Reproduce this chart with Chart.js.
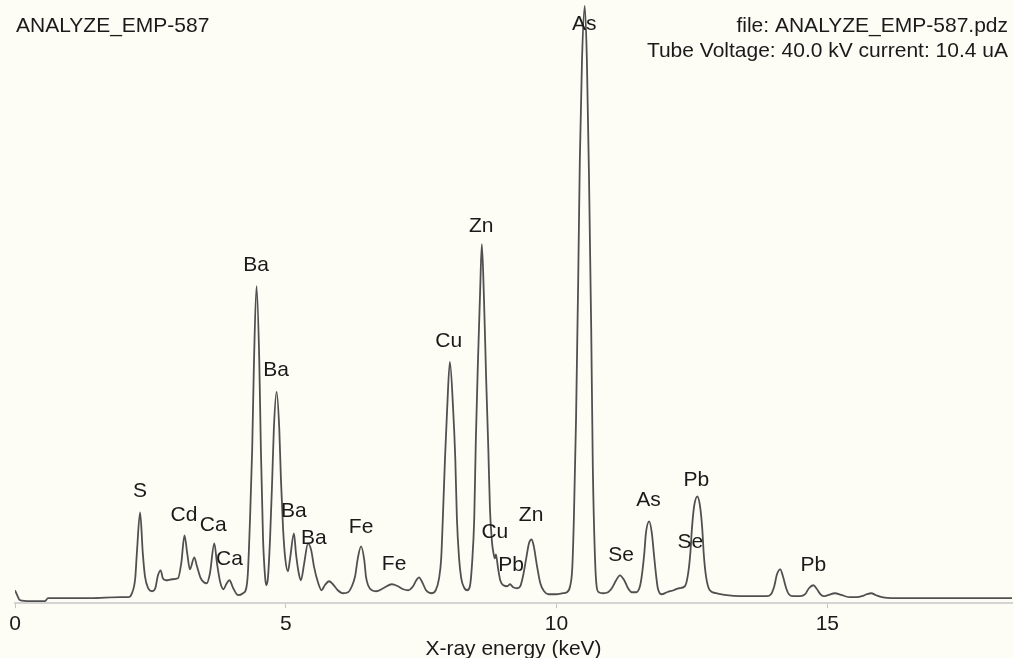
<!DOCTYPE html>
<html><head><meta charset="utf-8">
<script src="https://cdn.jsdelivr.net/npm/chart.js@4/dist/chart.umd.min.js"></script>
<style>html,body{margin:0;padding:0;background:#fdfdf6;overflow:hidden}#wrap{width:1014px;height:658px}</style>
</head><body><div id="wrap"><canvas id="c" width="1014" height="658"></canvas></div>
<script>
const energyKeV=[0.00,0.04,0.09,0.28,0.55,0.61,0.83,1.39,1.94,2.09,2.16,2.22,2.25,2.31,2.36,2.40,2.46,2.53,2.59,2.64,2.69,2.73,2.79,2.90,3.01,3.07,3.13,3.18,3.23,3.31,3.36,3.43,3.54,3.60,3.68,3.73,3.79,3.85,3.90,3.96,4.03,4.12,4.21,4.27,4.30,4.34,4.38,4.41,4.46,4.51,4.54,4.58,4.62,4.64,4.67,4.71,4.75,4.78,4.83,4.88,4.91,4.95,4.99,5.04,5.08,5.15,5.19,5.24,5.28,5.34,5.41,5.47,5.52,5.60,5.66,5.72,5.80,5.87,5.96,6.06,6.15,6.22,6.28,6.33,6.39,6.45,6.48,6.52,6.59,6.67,6.80,6.96,7.07,7.17,7.26,7.35,7.41,7.46,7.52,7.59,7.70,7.77,7.83,7.87,7.90,7.94,7.98,8.03,8.09,8.13,8.16,8.20,8.24,8.29,8.35,8.40,8.44,8.48,8.51,8.55,8.59,8.62,8.66,8.70,8.74,8.77,8.81,8.83,8.86,8.88,8.92,8.96,9.02,9.09,9.14,9.20,9.27,9.33,9.38,9.44,9.49,9.54,9.58,9.64,9.70,9.77,9.85,9.99,10.12,10.19,10.25,10.29,10.32,10.36,10.40,10.43,10.47,10.52,10.56,10.60,10.64,10.67,10.71,10.74,10.78,10.86,10.95,11.02,11.10,11.17,11.25,11.32,11.39,11.47,11.54,11.58,11.62,11.65,11.71,11.76,11.80,11.84,11.87,11.94,12.04,12.16,12.26,12.37,12.43,12.47,12.50,12.54,12.60,12.65,12.69,12.72,12.76,12.83,12.95,13.14,13.39,13.67,13.88,13.96,14.02,14.07,14.13,14.18,14.24,14.29,14.37,14.50,14.59,14.66,14.74,14.81,14.87,14.93,15.01,15.14,15.27,15.42,15.54,15.64,15.73,15.81,15.90,16.01,16.25,16.71,17.27,17.82,18.41];
const intensity=[13,8,3,2,2,5,5,5,6,6,10,25,50,91,50,27,15,12,15,28,33,25,23,24,25,40,68,50,34,46,37,25,20,30,60,40,21,14,19,23,15,8,10,15,30,85,155,235,318,245,155,65,25,18,25,65,125,175,212,175,125,75,45,32,45,70,49,30,23,40,60,53,37,20,13,18,22,19,13,10,11,17,27,45,57,43,27,18,13,12,15,19,17,14,13,17,23,26,21,13,10,13,25,45,85,145,195,242,195,145,85,45,25,16,13,17,40,85,165,245,315,360,305,225,155,95,60,52,45,49,35,23,18,17,19,16,15,17,27,45,60,64,57,37,20,12,9,9,10,11,17,35,85,185,325,445,545,599,545,425,275,135,45,17,11,10,11,15,23,28,23,15,11,11,17,30,50,70,82,70,48,27,15,9,11,13,15,17,30,50,75,97,107,97,75,48,27,13,10,8,7,7,7,9,17,29,34,27,15,9,7,7,9,15,18,14,9,7,8,10,8,6,6,7,9,10,8,6,5,5,5,5,5];
const tickValues=[0,5,10,15];
const peakElements=["S","Cd","Ca","Ca","Ba","Ba","Ba","Ba","Fe","Fe","Cu","Zn","Cu","Pb","Zn","As","Se","As","Pb","Se","Pb"];
const peakEnergy=[2.31,3.12,3.66,3.96,4.45,4.82,5.15,5.52,6.39,7.00,8.01,8.61,8.86,9.16,9.53,10.51,11.19,11.70,12.58,12.47,14.74];
const peakLabelLevel=[107,82,72,38,333,228,86,59,70,33,257,372,65,32,82,575,42,97,118,55,32];
const chartTitle="ANALYZE_EMP-587";
const infoLines=["file: ANALYZE_EMP-587.pdz","Tube Voltage: 40.0 kV current: 10.4 uA"];
const xTitle="X-ray energy (keV)";

const FONT="'Liberation Sans', Arial, Helvetica, sans-serif";
const TEXT="#1a1a1a";

const bgPlugin={id:'bg',beforeDraw(chart){const c=chart.ctx;c.save();c.fillStyle='#fdfdf6';c.fillRect(0,0,chart.width,chart.height);c.restore();}};
const labelPlugin={id:'labels',afterDatasetsDraw(chart){
  const c=chart.ctx, xs=chart.scales.x, ys=chart.scales.y;
  c.save();
  c.fillStyle=TEXT;
  c.font="21px "+FONT;
  c.textAlign='center';c.textBaseline='alphabetic';
  peakElements.forEach((el,i)=>{c.fillText(el,xs.getPixelForValue(peakEnergy[i]),ys.getPixelForValue(peakLabelLevel[i]));});
  c.textAlign='left';
  c.fillText(chartTitle,16,32);
  c.textAlign='right';
  c.fillText(infoLines[0],1008,32);
  c.fillText(infoLines[1],1008,57);
  c.restore();
}};

new Chart(document.getElementById('c'),{
  type:'line',
  data:{datasets:[{data:energyKeV.map((e,i)=>({x:e,y:intensity[i]})),borderColor:'#505050',borderWidth:1.8,pointRadius:0,fill:false,cubicInterpolationMode:'monotone'}]},
  options:{
    responsive:false,animation:false,devicePixelRatio:1,
    layout:{padding:{left:15,right:2,top:0,bottom:0}},
    plugins:{legend:{display:false},tooltip:{enabled:false},title:{display:false}},
    scales:{
      x:{type:'linear',min:0,max:18.41,
        afterBuildTicks(s){s.ticks=tickValues.map(v=>({value:v}));},
        grid:{display:true,drawOnChartArea:false,drawTicks:true,tickLength:5,color:'#c4c4c4',lineWidth:1},
        border:{display:true,color:'#d4d4d4',width:2},
        ticks:{font:{family:FONT,size:21,lineHeight:1},color:TEXT,padding:6,maxRotation:0,autoSkip:false},
        title:{display:true,text:xTitle,font:{family:FONT,size:21,lineHeight:0.8},color:TEXT,padding:{top:0,bottom:0}}
      },
      y:{display:false,min:0,max:605}
    }
  },
  plugins:[bgPlugin,labelPlugin]
});
</script></body></html>
